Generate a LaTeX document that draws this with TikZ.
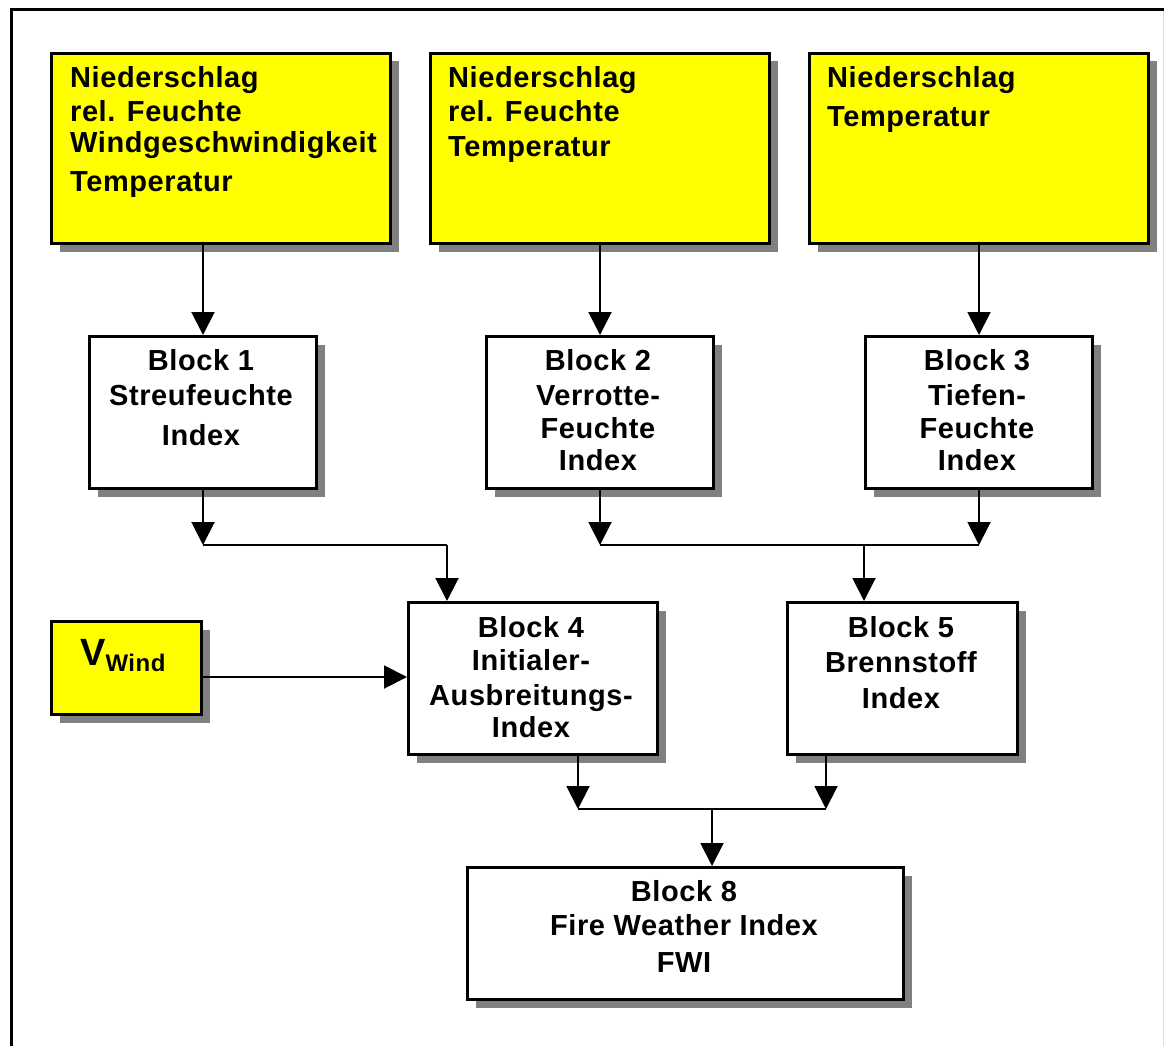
\documentclass[tikz,border=0pt]{standalone}
\usepackage{fontspec}
\setmainfont[LetterSpace=2]{Liberation Sans}
\usepackage{tikz}
\usetikzlibrary{arrows.meta,shadows}
\definecolor{gelb}{RGB}{255,255,0}

\begin{document}
\begin{tikzpicture}[x=1pt,y=-1pt,
  schatten/.style={drop shadow={shadow xshift=8pt,shadow yshift=-8pt,fill=black!50,opacity=1}},
  eingabe/.style={draw,line width=3pt,fill=gelb,schatten,anchor=north west,inner sep=0pt,
    minimum width=339pt,minimum height=190pt},
  block/.style={draw,line width=3pt,fill=white,schatten,anchor=north west,inner sep=0pt},
  txt/.style={inner sep=0pt,font=\bfseries\fontsize{29}{34}\selectfont},
  linie/.style={line width=2pt},
  pfeil/.style={line width=2pt,-{Triangle[length=23pt,width=23pt]}}]

\useasboundingbox (0,0) rectangle (1164,1046);
\draw[line width=3pt] (11,1050) -- (11,10) -- (1166,10);
\draw[black!12,line width=1pt] (1163,11) -- (1163,1046);

\node[eingabe] (in1) at (50,52) {};
\node[eingabe] (in2) at (429,52) {};
\node[eingabe] (in3) at (808,52) {};
\node[txt,anchor=north west,align=left] (t1) at (70,66) {Niederschlag\\rel. Feuchte\\[-3pt]Windgeschwindigkeit\\[5pt]Temperatur};
\node[txt,anchor=north west,align=left] (t2) at (448,66) {Niederschlag\\rel. Feuchte\\[1pt]Temperatur};
\node[txt,anchor=north west,align=left] (t3) at (827,66) {Niederschlag\\[5pt]Temperatur};

\node[block,minimum width=227pt,minimum height=152pt] (b1) at (88,335) {};
\node[block,minimum width=227pt,minimum height=152pt] (b2) at (485,335) {};
\node[block,minimum width=227pt,minimum height=152pt] (b3) at (864,335) {};
\node[block,minimum width=249pt,minimum height=152pt] (b4) at (407,601) {};
\node[block,minimum width=230pt,minimum height=152pt] (b5) at (786,601) {};
\node[block,minimum width=436pt,minimum height=132pt] (b8) at (466,866) {};
\node[block,fill=gelb,minimum width=150pt,minimum height=93pt] (vw) at (50,620) {};

\node[txt,anchor=north,align=center] (tb1) at (201,349) {Block 1\\[1pt]Streufeuchte\\[6pt]Index};
\node[txt,anchor=north,align=center] (tb2) at (598,349) {Block 2\\[1pt]Verrotte-\\[-1pt]Feuchte\\[-2pt]Index};
\node[txt,anchor=north,align=center] (tb3) at (977,349) {Block 3\\[1pt]Tiefen-\\[-1pt]Feuchte\\[-2pt]Index};
\node[txt,anchor=north,align=center] (tb4) at (531,616) {Block 4\\[-1pt]Initialer-\\[1pt]Ausbreitungs-\\[-2pt]Index};
\node[txt,anchor=north,align=center] (tb5) at (901,616) {Block 5\\[1pt]Brennstoff\\[2pt]Index};
\node[txt,anchor=north,align=center] (tb8) at (684,880) {Block 8\\Fire Weather Index\\[3pt]FWI};
\node[inner sep=0pt,anchor=base west,font=\bfseries] (tvw) at (80,665)
  {\fontsize{38}{38}\selectfont V\raisebox{-6pt}{\fontsize{24}{24}\selectfont Wind}};

\coordinate (k4) at (447,545);
\coordinate (k5) at (864,545);
\coordinate (j1) at (b1.south |- k4);
\coordinate (j2) at (b2.south |- k4);
\coordinate (j3) at (b3.south |- k4);
\coordinate (m8) at (712,809);
\coordinate (m4) at (578,809);
\coordinate (m5) at (826,809);
\coordinate (w0) at (200,677);

\draw[pfeil] (b1.north |- in1.south) -- (b1.north);
\draw[pfeil] (b2.north |- in2.south) -- (b2.north);
\draw[pfeil] (b3.north |- in3.south) -- (b3.north);

\draw[pfeil] (b1.south) -- (j1);
\draw[linie] (j1) -- (k4);
\draw[pfeil] (k4) -- (k4 |- b4.north);
\draw[pfeil] (b2.south) -- (j2);
\draw[pfeil] (b3.south) -- (j3);
\draw[linie] (j2) -- (j3);
\draw[pfeil] (k5) -- (k5 |- b5.north);

\draw[pfeil] (w0) -- (w0 -| b4.west);

\draw[pfeil] (m4 |- b4.south) -- (m4);
\draw[pfeil] (m5 |- b5.south) -- (m5);
\draw[linie] (m4) -- (m5);
\draw[pfeil] (m8) -- (m8 |- b8.north);
\end{tikzpicture}
\end{document}
